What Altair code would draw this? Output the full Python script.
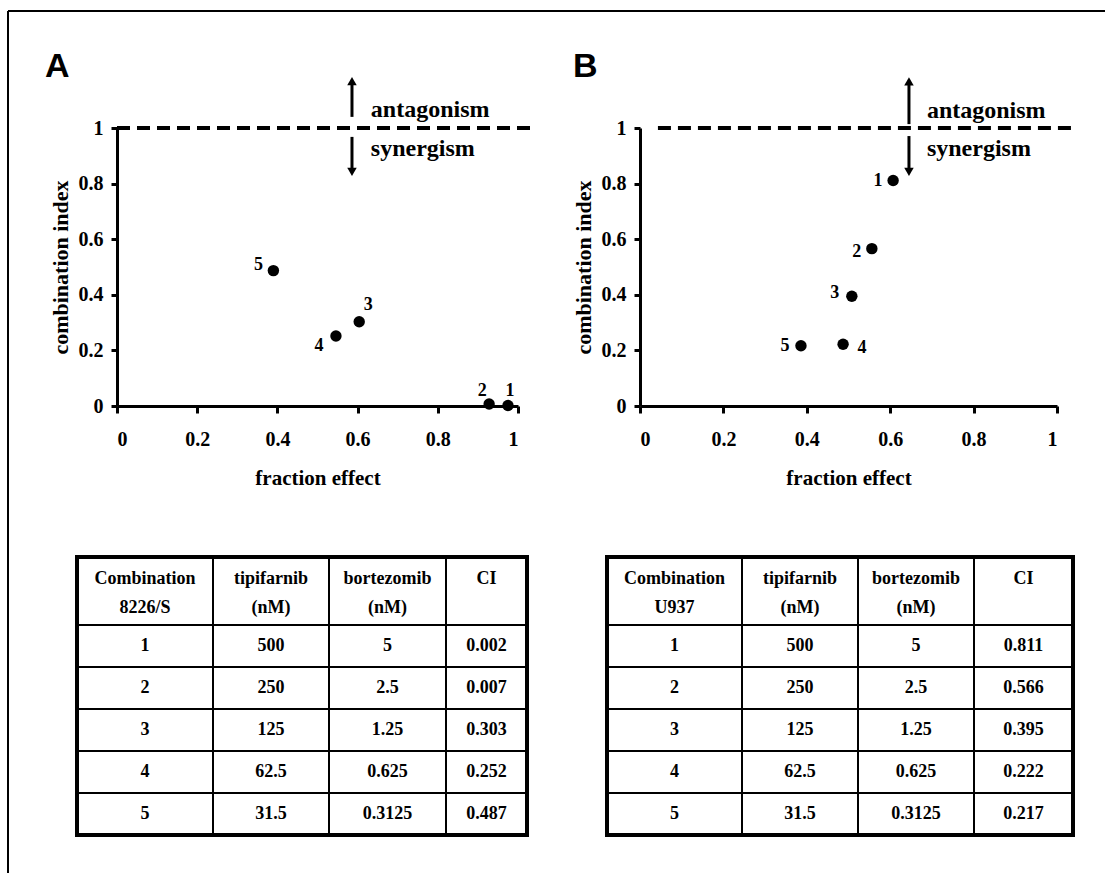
import altair as alt
import pandas as pd

# ---------------- data ----------------
combo = [1, 2, 3, 4, 5]

# Panel A (8226/S)
fa_A = [0.975, 0.928, 0.604, 0.546, 0.390]
ci_A = [0.002, 0.007, 0.303, 0.252, 0.487]
# Panel B (U937)
fa_B = [0.607, 0.556, 0.508, 0.487, 0.386]
ci_B = [0.811, 0.566, 0.395, 0.222, 0.217]

tipifarnib = ["500", "250", "125", "62.5", "31.5"]
bortezomib = ["5", "2.5", "1.25", "0.625", "0.3125"]
ci_text_A = ["0.002", "0.007", "0.303", "0.252", "0.487"]
ci_text_B = ["0.811", "0.566", "0.395", "0.222", "0.217"]

header_top = ["Combination", "tipifarnib", "bortezomib", "CI"]
header_bottom_A = ["8226/S", "(nM)", "(nM)", ""]
header_bottom_B = ["U937", "(nM)", "(nM)", ""]

tick_values = [0, 0.2, 0.4, 0.6, 0.8, 1]
threshold = 1.0
words = ["antagonism", "synergism"]

# annotation placement (data units)
annot_A = dict(dash=(0.0, 1.03), arrow_x=0.586, up=(1.040, 1.16), down=(0.968, 0.85),
               head_up=1.169, head_down=0.842, word_x=0.633, word_y=(1.065, 0.924))
annot_B = dict(dash=(0.043, 1.05), arrow_x=0.645, up=(1.014, 1.16), down=(0.971, 0.85),
               head_up=1.168, head_down=0.842, word_x=0.688, word_y=(1.061, 0.925))

# label offsets (pixels) for the point numbers
label_off_A = [(2, -14), (-7, -13), (9, -17), (-17, 10), (-15, -6)]
label_off_B = [(-15, 0), (-15, 3), (-17, -3), (19, 4), (-16, 0)]

SERIF = "Liberation Serif"
SANS = "Liberation Sans"
PLOT_H = 278


def panel(fa, ci, offs, width, an, letter, letter_dx):
    n = [str(c) for c in combo]
    pts = pd.DataFrame({"fa": fa, "ci": ci, "n": n})

    def X(field="fa"):
        return alt.X(f"{field}:Q",
                     scale=alt.Scale(domain=[0, 1], nice=False, zero=False),
                     axis=alt.Axis(values=tick_values, format="~g", title="fraction effect",
                                   tickSize=7, labelPadding=16, titlePadding=18,
                                   titleFontSize=21))

    def Y(field="ci"):
        return alt.Y(f"{field}:Q",
                     scale=alt.Scale(domain=[0, 1], nice=False, zero=False),
                     axis=alt.Axis(values=tick_values, format="~g", title="combination index",
                                   tickSize=6, labelPadding=8, titlePadding=6,
                                   titleFontSize=22))

    base = alt.Chart(pts)
    dots = base.mark_circle(size=130, color="black", opacity=1).encode(x=X(), y=Y())
    labels = [
        base.transform_filter(alt.datum.n == n[i]).mark_text(
            dx=offs[i][0], dy=offs[i][1], font=SERIF, fontWeight="bold",
            fontSize=18, color="black", align="center", baseline="middle"
        ).encode(x=X(), y=Y(), text="n:N")
        for i in range(len(n))
    ]
    dash = alt.Chart(pd.DataFrame({"fa": [an["dash"][0]], "fa2": [an["dash"][1]],
                                   "ci": [threshold]})).mark_rule(
        strokeDash=[13, 7], strokeWidth=4, color="black"
    ).encode(x=X(), x2="fa2:Q", y=Y())
    shafts = alt.Chart(pd.DataFrame({"fa": [an["arrow_x"]] * 2,
                                     "ci": [an["up"][0], an["down"][0]],
                                     "ci2": [an["up"][1], an["down"][1]]})).mark_rule(
        strokeWidth=3, color="black"
    ).encode(x=X(), y=Y(), y2="ci2:Q")
    heads = alt.Chart(pd.DataFrame({"fa": [an["arrow_x"]] * 2,
                                    "ci": [an["head_up"], an["head_down"]],
                                    "shape": ["triangle-up", "triangle-down"]})).mark_point(
        filled=True, size=90, color="black", opacity=1
    ).encode(x=X(), y=Y(), shape=alt.Shape("shape:N", scale=None))
    txt = alt.Chart(pd.DataFrame({"fa": [an["word_x"]] * 2, "ci": list(an["word_y"]),
                                  "w": words})).mark_text(
        align="left", baseline="middle", font=SERIF, fontWeight="bold",
        fontSize=24, color="black"
    ).encode(x=X(), y=Y(), text="w:N")

    return alt.layer(dash, shafts, heads, txt, dots, *labels).properties(
        width=width, height=PLOT_H,
        title=alt.Title(letter, anchor="start", frame="group", dx=letter_dx, dy=85,
                        offset=51, baseline="alphabetic", font=SANS,
                        fontSize=34, fontWeight="bold", color="black"),
    )


pA = panel(fa_A, ci_A, label_off_A, 401, annot_A, "A", -72)
pB = panel(fa_B, ci_B, label_off_B, 417, annot_B, "B", -67)

# ---------------- tables ----------------
TAB_W = 956
TAB_H = 278
HEADER_H = 68
ROW_H = 42
table_left = [-40, 490]
col_widths = [[136, 116, 117, 81], [135, 116, 116, 99]]
bottoms = [header_bottom_A, header_bottom_B]
ci_texts = [ci_text_A, ci_text_B]

cells, outers, texts = [], [], []
for t in range(2):
    edges = [table_left[t]]
    for w in col_widths[t]:
        edges.append(edges[-1] + w)
    outers.append({"x0": edges[0], "x1": edges[-1], "y0": 0, "y1": TAB_H})
    row_edges = [0, HEADER_H] + [HEADER_H + ROW_H * (i + 1) for i in range(len(combo))]
    for c in range(4):
        for r in range(len(row_edges) - 1):
            cells.append({"x0": edges[c], "x1": edges[c + 1],
                          "y0": row_edges[r], "y1": row_edges[r + 1]})
        cx = (edges[c] + edges[c + 1]) / 2
        texts.append({"x": cx, "y": 22, "t": header_top[c]})
        if bottoms[t][c]:
            texts.append({"x": cx, "y": 51, "t": bottoms[t][c]})
        col_vals = [[str(v) for v in combo], tipifarnib, bortezomib, ci_texts[t]][c]
        for i, v in enumerate(col_vals):
            texts.append({"x": cx, "y": HEADER_H + ROW_H * i + ROW_H / 2, "t": v})

xs = alt.Scale(domain=[0, TAB_W], nice=False, zero=False)
ys = alt.Scale(domain=[0, TAB_H], nice=False, zero=False, reverse=True)

cell_layer = alt.Chart(pd.DataFrame(cells)).mark_rect(
    fill="white", stroke="black", strokeWidth=2
).encode(x=alt.X("x0:Q", scale=xs, axis=None), x2="x1:Q",
         y=alt.Y("y0:Q", scale=ys, axis=None), y2="y1:Q")
outer_layer = alt.Chart(pd.DataFrame(outers)).mark_rect(
    filled=False, stroke="black", strokeWidth=4
).encode(x=alt.X("x0:Q", scale=xs, axis=None), x2="x1:Q",
         y=alt.Y("y0:Q", scale=ys, axis=None), y2="y1:Q")
text_layer = alt.Chart(pd.DataFrame(texts)).mark_text(
    font=SERIF, fontWeight="bold", fontSize=18, color="black",
    align="center", baseline="middle"
).encode(x=alt.X("x:Q", scale=xs, axis=None), y=alt.Y("y:Q", scale=ys, axis=None),
         text="t:N")

# figure frame (left and top edges of the enclosing box)
frame = pd.DataFrame({"x0": [-109, -109], "x1": [988, -109],
                      "y0": [-546, -546], "y1": [-546, 316]})
frame_layer = alt.Chart(frame).mark_rule(color="black", strokeWidth=2).encode(
    x=alt.X("x0:Q", scale=xs, axis=None), x2="x1:Q",
    y=alt.Y("y0:Q", scale=ys, axis=None), y2="y1:Q")

tables = alt.layer(cell_layer, outer_layer, text_layer, frame_layer).properties(
    width=TAB_W, height=TAB_H)

# gap between the plot row and the tables (151 px) plus the plot height,
# because a nested concat row counts with zero height in flush bounds
chart = alt.vconcat(
    alt.hconcat(pA, pB, spacing=122, bounds="flush"),
    tables,
    spacing=151 + PLOT_H, bounds="flush",
).properties(
    padding={"left": 7, "top": 10, "right": 0, "bottom": 0},
    background="white",
).configure_view(stroke=None).configure_axis(
    grid=False, domainColor="black", domainWidth=3, tickColor="black", tickWidth=3,
    labelFont=SERIF, labelFontWeight="bold", labelFontSize=20, labelColor="black",
    titleFont=SERIF, titleFontWeight="bold", titleColor="black",
)

chart.save("out.html", embed_options={"renderer": "svg", "actions": False})
